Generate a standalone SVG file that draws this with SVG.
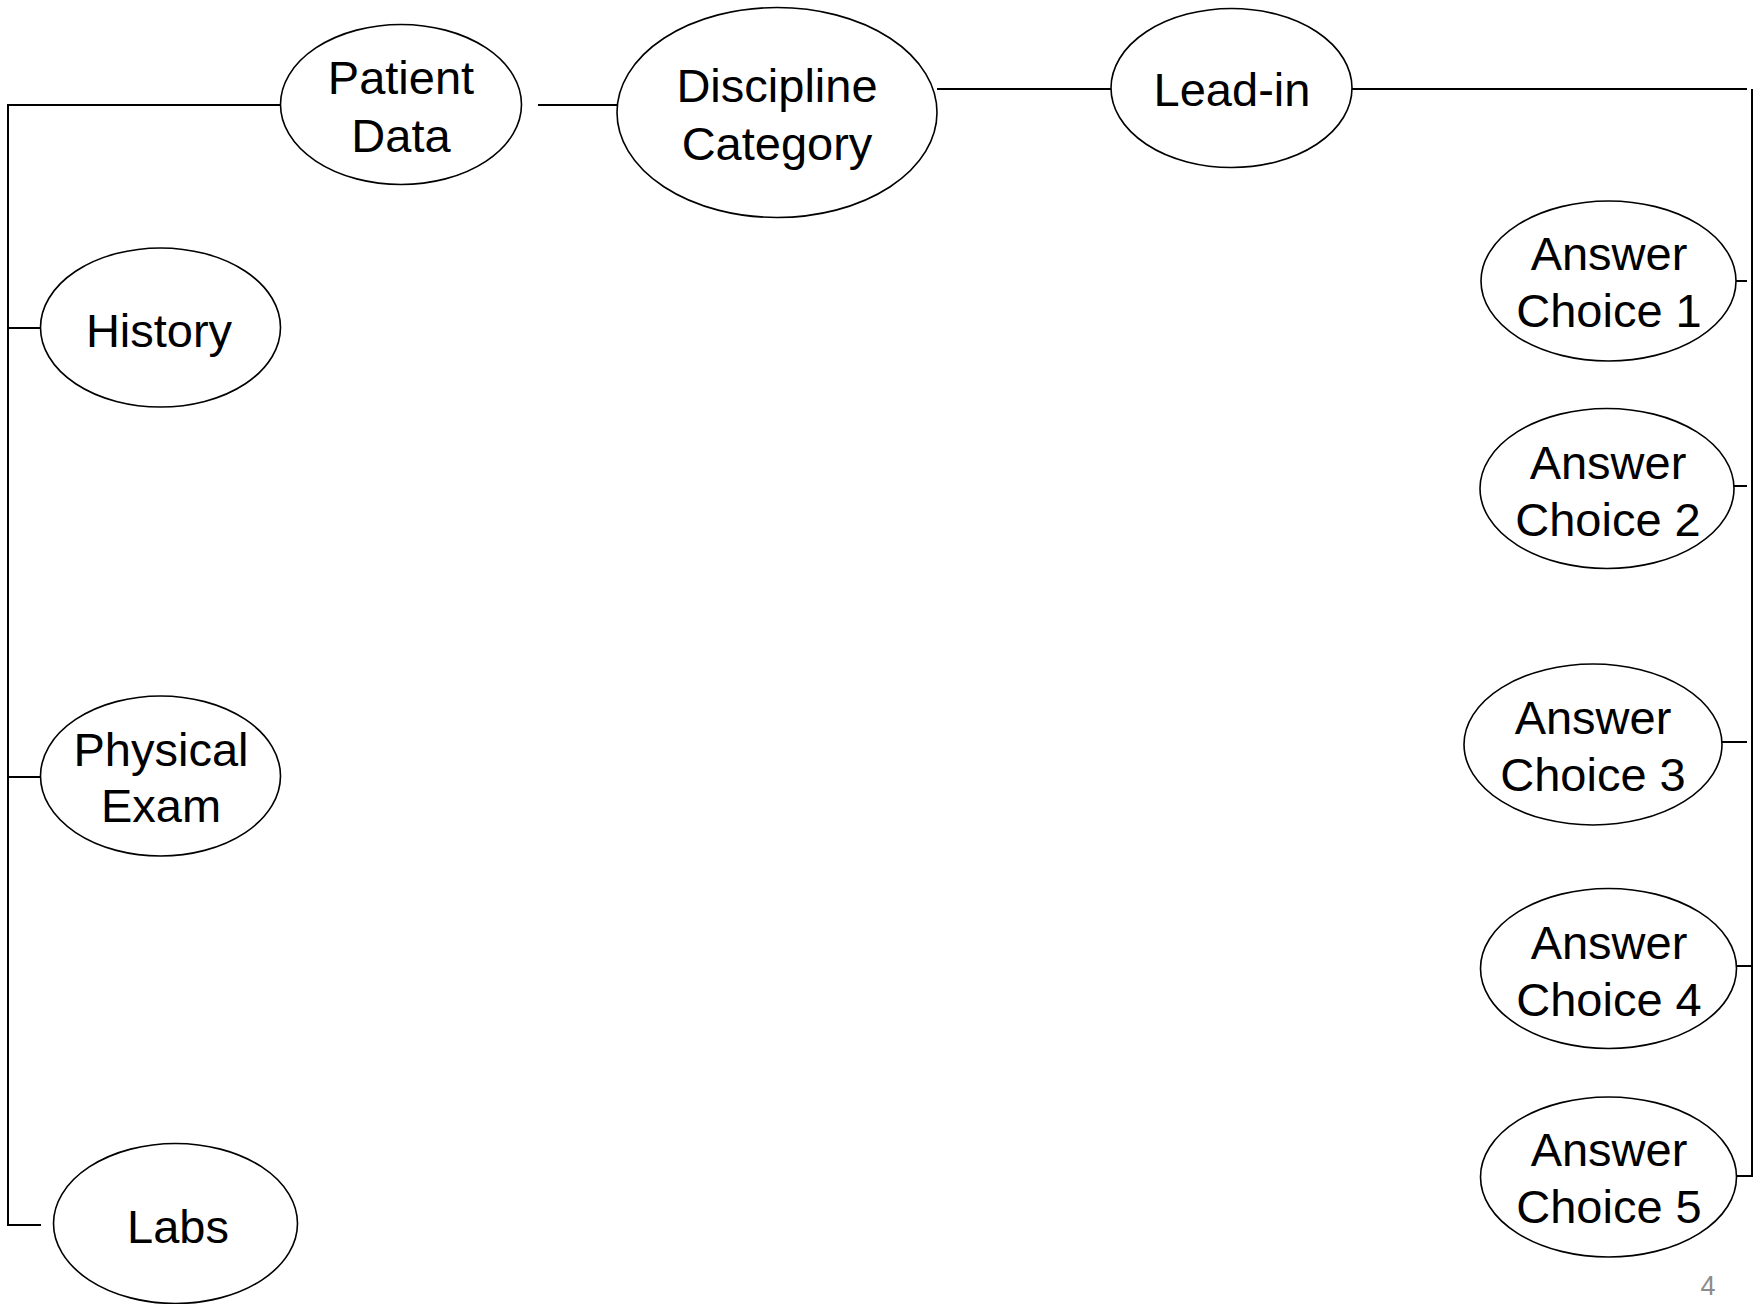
<svg xmlns="http://www.w3.org/2000/svg" width="1762" height="1304" viewBox="0 0 1762 1304">
  <style>
    .node ellipse { fill: #ffffff; stroke: #000000; stroke-width: 1.6; }
    .node text { font-family: "Liberation Sans", Arial, sans-serif; font-size: 47px; fill: #000000; text-anchor: middle; }
    .links line, .links polyline { fill: none; stroke: #000000; stroke-width: 2; }
    .pagenum { font-family: "Liberation Sans", Arial, sans-serif; font-size: 27px; fill: #8c8c8c; text-anchor: middle; }
  </style>
  <rect width="1762" height="1304" fill="#ffffff"/>

  <!-- connectors -->
  <g class="links">
    <!-- left spine: patient data to its details -->
    <polyline points="280,105 8,105 8,1225 41,1225"/>
    <line x1="8" y1="328" x2="41" y2="328"/>
    <line x1="8" y1="777" x2="41" y2="777"/>
    <!-- top chain -->
    <line x1="538" y1="105" x2="617" y2="105"/>
    <line x1="937" y1="89" x2="1111" y2="89"/>
    <line x1="1352" y1="89" x2="1747" y2="89"/>
    <!-- right spine: lead-in to answer choices -->
    <polyline points="1752,89 1752,1176 1737,1176"/>
    <line x1="1736" y1="281" x2="1747" y2="281"/>
    <line x1="1734" y1="486" x2="1747" y2="486"/>
    <line x1="1722" y1="742" x2="1747" y2="742"/>
    <line x1="1737" y1="966" x2="1752" y2="966"/>
  </g>

  <g id="patient-data" class="node">
    <ellipse cx="401" cy="104.5" rx="120.5" ry="80"/>
    <text x="401" y="93.5">Patient</text>
    <text x="401" y="151.5">Data</text>
  </g>

  <g id="discipline-category" class="node">
    <ellipse cx="777" cy="112.5" rx="160" ry="105"/>
    <text x="777" y="101.5">Discipline</text>
    <text x="777" y="159.5">Category</text>
  </g>

  <g id="lead-in" class="node">
    <ellipse cx="1231.5" cy="88" rx="120.5" ry="79.5"/>
    <text x="1232" y="106">Lead-in</text>
  </g>

  <g id="history" class="node">
    <ellipse cx="160.5" cy="327.5" rx="120" ry="79.5"/>
    <text x="159" y="346.5">History</text>
  </g>

  <g id="physical-exam" class="node">
    <ellipse cx="160.5" cy="776" rx="120" ry="80"/>
    <text x="161" y="765.5">Physical</text>
    <text x="161" y="821.5">Exam</text>
  </g>

  <g id="labs" class="node">
    <ellipse cx="175.5" cy="1223.5" rx="122" ry="80"/>
    <text x="178" y="1243">Labs</text>
  </g>

  <g id="answer-choice-1" class="node">
    <ellipse cx="1608.5" cy="281" rx="127.5" ry="80"/>
    <text x="1609" y="269.5">Answer</text>
    <text x="1609" y="326.5">Choice 1</text>
  </g>

  <g id="answer-choice-2" class="node">
    <ellipse cx="1607" cy="488.5" rx="127" ry="80"/>
    <text x="1608" y="479">Answer</text>
    <text x="1608" y="535.5">Choice 2</text>
  </g>

  <g id="answer-choice-3" class="node">
    <ellipse cx="1593" cy="744.5" rx="129" ry="80.5"/>
    <text x="1593" y="734">Answer</text>
    <text x="1593" y="791">Choice 3</text>
  </g>

  <g id="answer-choice-4" class="node">
    <ellipse cx="1608.5" cy="968.5" rx="128" ry="80"/>
    <text x="1609" y="959">Answer</text>
    <text x="1609" y="1015.5">Choice 4</text>
  </g>

  <g id="answer-choice-5" class="node">
    <ellipse cx="1608.5" cy="1177" rx="128" ry="80"/>
    <text x="1609" y="1166">Answer</text>
    <text x="1609" y="1223">Choice 5</text>
  </g>

  <text class="pagenum" x="1708" y="1295">4</text>
</svg>
